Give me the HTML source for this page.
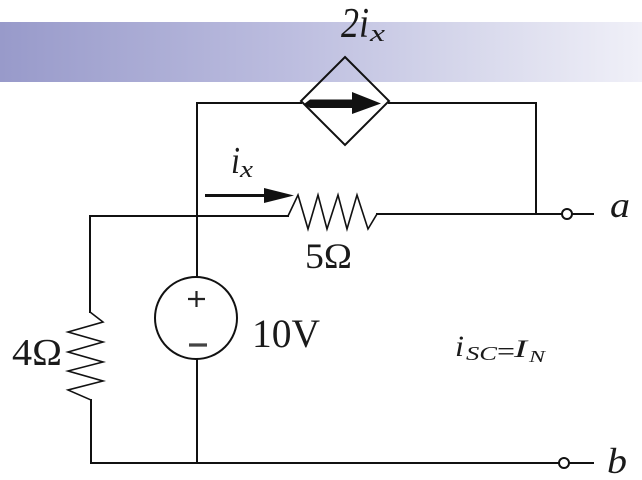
<!DOCTYPE html>
<html>
<head>
<meta charset="utf-8">
<style>
  html,body{margin:0;padding:0;background:#fff;}
  svg{display:block;}
  text{font-family:"Liberation Serif",serif;fill:#1a1a1a;}
</style>
</head>
<body>
<svg width="642" height="480" viewBox="0 0 642 480" xmlns="http://www.w3.org/2000/svg">
  <defs>
    <linearGradient id="band" x1="0" y1="0" x2="1" y2="0">
      <stop offset="0" stop-color="#989aca"/>
      <stop offset="0.45" stop-color="#bcbddf"/>
      <stop offset="0.7" stop-color="#d4d5ea"/>
      <stop offset="1" stop-color="#f0f0f8"/>
    </linearGradient>
  </defs>
  <rect x="0" y="0" width="642" height="480" fill="#fff"/>
  <rect x="0" y="22" width="642" height="60" fill="url(#band)"/>

  <g stroke="#111" stroke-width="2" fill="none" stroke-linecap="square">
    <!-- top wire -->
    <line x1="197" y1="103" x2="301" y2="103"/>
    <line x1="389" y1="103" x2="536" y2="103"/>
    <line x1="536" y1="103" x2="536" y2="214"/>
    <!-- dependent source diamond -->
    <polygon points="345,57 389,101 345,145 301,101" stroke-linejoin="miter"/>
    <!-- middle vertical (source branch) -->
    <line x1="197" y1="103" x2="197" y2="277"/>
    <line x1="197" y1="360" x2="197" y2="463"/>
    <!-- voltage source -->
    <circle cx="196" cy="318" r="41"/>
    <!-- middle horizontal wire -->
    <line x1="90" y1="216" x2="288" y2="216"/>
    <!-- 5 ohm resistor -->
    <polyline stroke-width="1.6" stroke-linejoin="miter" points="288,216 298,195 308,229 318,195 327,229 338,195 347,229 357,195 368,229 377,214"/>
    <line x1="377" y1="214" x2="593" y2="214"/>
    <!-- left branch with 4 ohm -->
    <line x1="90" y1="216" x2="90" y2="312"/>
    <polyline stroke-width="1.6" stroke-linejoin="miter" points="90,312 103,322 68,332 103,342 68,352 103,362 68,371 103,381 68,390 91,400"/>
    <line x1="91" y1="400" x2="91" y2="463"/>
    <!-- bottom wire -->
    <line x1="91" y1="463" x2="593" y2="463"/>
  </g>

  <!-- plus / minus -->
  <g stroke="#222" stroke-width="2.2">
    <line x1="188" y1="299" x2="205" y2="299"/>
    <line x1="196.5" y1="291" x2="196.5" y2="307"/>
  </g>
  <line x1="189" y1="345" x2="207" y2="345" stroke="#444" stroke-width="3.2"/>

  <!-- arrow inside diamond -->
  <polygon points="304,104 310,99.5 352,99.5 352,92 381,103.5 352,114 352,108 310,108" fill="#111"/>

  <!-- i_x arrow -->
  <line x1="205" y1="195.5" x2="268" y2="195.5" stroke="#111" stroke-width="3"/>
  <polygon points="264,188 294,195.5 264,203" fill="#111"/>

  <!-- terminals -->
  <circle cx="567" cy="214" r="5" fill="#fff" stroke="#111" stroke-width="2"/>
  <circle cx="564" cy="463" r="5" fill="#fff" stroke="#111" stroke-width="2"/>

  <!-- labels -->
  <text x="341" y="37" font-size="42" font-style="italic" textLength="28" lengthAdjust="spacingAndGlyphs">2i</text>
  <text x="370" y="41" font-size="24" font-style="italic" textLength="15" lengthAdjust="spacingAndGlyphs">x</text>

  <text x="231" y="173" font-size="38" font-style="italic" textLength="9" lengthAdjust="spacingAndGlyphs">i</text>
  <text x="240" y="177" font-size="24" font-style="italic" textLength="13" lengthAdjust="spacingAndGlyphs">x</text>

  <text x="305" y="268" font-size="36" textLength="47" lengthAdjust="spacingAndGlyphs">5Ω</text>
  <text x="12" y="365" font-size="38" textLength="50" lengthAdjust="spacingAndGlyphs">4Ω</text>
  <text x="252" y="347" font-size="40" textLength="68" lengthAdjust="spacingAndGlyphs">10V</text>

  <text x="610" y="217" font-size="36" font-style="italic" textLength="20" lengthAdjust="spacingAndGlyphs">a</text>
  <text x="607" y="473" font-size="36" font-style="italic" textLength="20" lengthAdjust="spacingAndGlyphs">b</text>

  <text x="455" y="356" font-size="30" font-style="italic" textLength="9" lengthAdjust="spacingAndGlyphs">i</text>
  <text x="466" y="360" font-size="20" font-style="italic" textLength="31" lengthAdjust="spacingAndGlyphs" fill="#333">SC</text>
  <text x="497" y="360" font-size="26" textLength="18" lengthAdjust="spacingAndGlyphs" fill="#333">=</text>
  <text x="514" y="357" font-size="25" font-style="italic" textLength="13" lengthAdjust="spacingAndGlyphs">I</text>
  <text x="529" y="362" font-size="17" font-style="italic" textLength="16" lengthAdjust="spacingAndGlyphs" fill="#333">N</text>
</svg>
</body>
</html>
